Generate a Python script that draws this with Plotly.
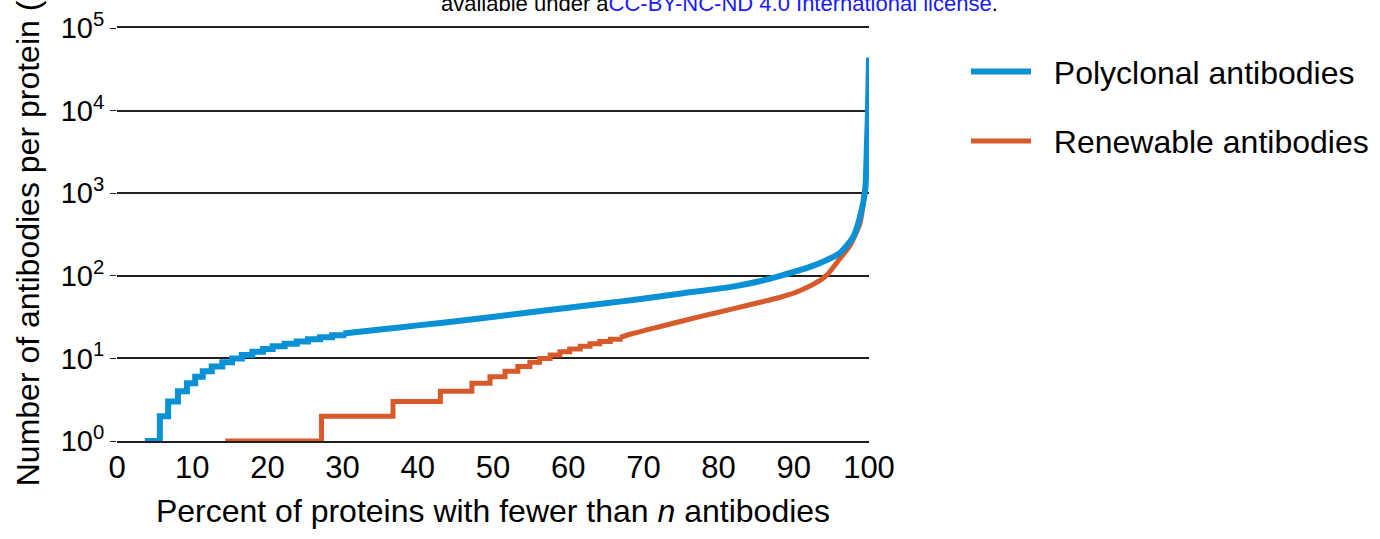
import plotly.graph_objects as go

# ---- Data ----
# Polyclonal antibodies: integer-count staircase, then dense (smooth-looking) part
poly_step_pct = [3.7, 5.7, 6.8, 8.1, 9.3, 10.4, 11.4, 12.6, 14.0, 15.3, 16.6, 18.0,
                 19.4, 20.7, 22.3, 23.9, 25.4, 27.0, 28.6, 30.1]
poly_step_n = [1, 2, 3, 4, 5, 6, 7, 8, 9, 10, 11, 12, 13, 14, 15, 16, 17, 18, 19, 20]
poly_curve_pct = [35.0, 40.0, 46.5, 55.0, 60.0, 65.0, 68.6, 75.0, 81.9, 85.0, 88.2,
                  90.8, 93.5, 96.1, 97.9, 98.8, 99.5, 99.7, 99.85, 100.0]
poly_curve_n = [22.4, 25.1, 29.2, 36.2, 41, 46.5, 51, 61, 74, 84, 100,
                117, 143, 188, 295, 515, 1100, 3300, 9000, 44000]

# Renewable antibodies
renew_step_pct = [14.4, 27.2, 36.7, 43.0, 47.2, 49.6, 51.6, 53.3, 54.9, 56.2, 57.6,
                  58.9, 60.2, 61.6, 62.9, 64.2, 65.6, 66.9]
renew_step_n = [1, 2, 3, 4, 5, 6, 7, 8, 9, 10, 11, 12, 13, 14, 15, 16, 17, 18]
renew_curve_pct = [68.6, 72.0, 77.5, 82.0, 86.4, 88.2, 90.8, 93.5, 94.4, 96.1,
                   97.5, 98.8, 99.2, 99.5, 99.7]
renew_curve_n = [20, 24, 32, 40, 50, 55, 66, 88, 102, 160,
                 235, 430, 700, 1200, 2200]

y_tickvals = [1, 10, 100, 1000, 10000, 100000]
y_ticktext = ["10<sup>0</sup>", "10<sup>1</sup>", "10<sup>2</sup>",
              "10<sup>3</sup>", "10<sup>4</sup>", "10<sup>5</sup>"]
x_tickvals = [0, 10, 20, 30, 40, 50, 60, 70, 80, 90, 100]

BLUE = "#0a90d4"
ORANGE = "#d75a2b"
INK = "#231f20"
FONT = "Liberation Sans, Arial, sans-serif"
NB = "\u00a0\u00a0"


def stair(step_pct, step_n):
    xs, ys = [], []
    for i in range(len(step_pct)):
        if i > 0:
            xs.append(step_pct[i]); ys.append(step_n[i - 1])
        xs.append(step_pct[i]); ys.append(step_n[i])
    return xs, ys


def add_series(fig, step_pct, step_n, curve_pct, curve_n, name, color, width, rank, grp):
    sx, sy = stair(step_pct, step_n)
    fig.add_trace(go.Scatter(x=sx, y=sy, mode="lines", name=NB + name,
                             line=dict(color=color, width=width),
                             legendrank=rank, legendgroup=grp, showlegend=True))
    cx = [step_pct[-1]] + curve_pct
    cy = [step_n[-1]] + curve_n
    fig.add_trace(go.Scatter(x=cx, y=cy, mode="lines", name=NB + name,
                             line=dict(color=color, width=width, shape="spline",
                                       smoothing=0.6),
                             legendgroup=grp, showlegend=False))


fig = go.Figure()
add_series(fig, renew_step_pct, renew_step_n, renew_curve_pct, renew_curve_n,
           "Renewable antibodies", ORANGE, 5, 2, "r")
add_series(fig, poly_step_pct, poly_step_n, poly_curve_pct, poly_curve_n,
           "Polyclonal antibodies", BLUE, 6, 1, "p")

fig.update_layout(
    width=1380, height=539,
    margin=dict(l=117, r=511, t=28, b=98, autoexpand=False),
    paper_bgcolor="white", plot_bgcolor="white",
    font=dict(family=FONT, size=32, color="black"),
    showlegend=True,
    legend=dict(x=(966 - 117) / 752, y=0.961, xanchor="left", yanchor="top",
                font=dict(size=32), itemwidth=60, tracegroupgap=25,
                bgcolor="rgba(0,0,0,0)"),
    xaxis=dict(range=[0, 100], tickvals=x_tickvals, showgrid=False,
               zeroline=False, showline=True, linecolor=INK, linewidth=2,
               mirror=True, ticks="", tickfont=dict(size=31), automargin=False,
               ticklabelstandoff=-2,
               title=dict(text="Percent of proteins with fewer than <i>n</i> antibodies",
                          font=dict(size=32), standoff=15)),
    yaxis=dict(type="log", range=[0, 5], tickvals=y_tickvals, ticktext=y_ticktext,
               showgrid=True, gridcolor=INK, gridwidth=2, zeroline=False,
               showline=False, ticks="outside", ticklen=6, tickwidth=1,
               tickcolor=INK, tickfont=dict(size=29), automargin=False),
    annotations=[
        dict(text="Number of antibodies per protein (<i>n</i>)", textangle=-90,
             xref="paper", yref="paper", x=-0.118, y=(441 - 488) / 413,
             xanchor="center", yanchor="bottom", showarrow=False,
             font=dict(size=32, color="black")),
        dict(text="available under a<span style='color:#1a1aff'>CC-BY-NC-ND 4.0 International license</span>.",
             xref="paper", yref="paper", x=(719 - 117) / 752, y=(441 - 3.5) / 413,
             xanchor="center", yanchor="middle", showarrow=False,
             font=dict(size=22, color="black")),
    ],
)

fig.write_html("out.html")
